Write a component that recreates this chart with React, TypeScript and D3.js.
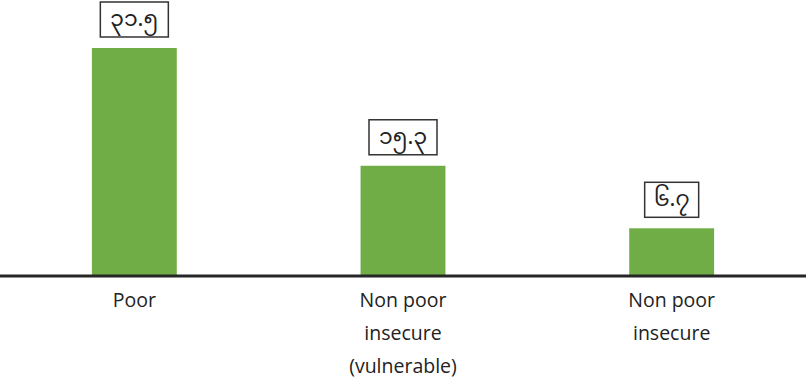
import React from "react";
import * as d3 from "d3";

const categories: string[][] = [
  ["Poor"],
  ["Non poor", "insecure", "(vulnerable)"],
  ["Non poor", "insecure"],
];
const values: number[] = [31.5, 15.3, 6.7];
const valueLabels: string[] = ["၃၁.၅", "၁၅.၃", "၆.၇"];

const W = 809;
const H = 383;

export default function App() {
  const keys = categories.map((_, i) => String(i));
  const x = d3
    .scaleBand<string>()
    .domain(keys)
    .range([0, 806])
    .paddingInner(0.684)
    .paddingOuter(0.342);
  const y = d3.scaleLinear().domain([0, 35]).range([277, 277 - 35 * 7.27]);
  const boxW = [68, 68, 54];
  return (
    <svg
      width={W}
      height={H}
      style={{ position: "absolute", left: 0, top: 0 }}
      fontFamily="'Source Sans Pro', 'Open Sans', 'Noto Sans', sans-serif"
    >
      <rect width={W} height={H} fill="#fff" />
      {values.map((v, i) => {
        const bx = x(keys[i])!;
        const bw = x.bandwidth();
        const top = y(v);
        const cx = bx + bw / 2;
        const w = boxW[i];
        return (
          <g key={i}>
            <rect x={bx} y={top} width={bw} height={y(0) - top} fill="#70AD47" />
            <rect
              x={cx - w / 2}
              y={top - 46}
              width={w}
              height={35}
              fill="#fff"
              stroke="#333"
              strokeWidth={1.5}
            />
            <text
              x={cx}
              y={top - 27}
              textAnchor="middle"
              dominantBaseline="central"
              fontSize={22}
              fill="#222"
              fontFamily="'Noto Sans Myanmar', 'Padauk', 'Myanmar Text', sans-serif"
            >
              {valueLabels[i]}
            </text>
          </g>
        );
      })}
      <line x1={0} x2={806} y1={276} y2={276} stroke="#262626" strokeWidth={3} />
      {categories.map((lines, i) => {
        const cx = x(keys[i])! + x.bandwidth() / 2;
        return (
          <text key={i} textAnchor="middle" fontSize={19.5} fill="#222">
            {lines.map((l, j) => (
              <tspan key={j} x={cx} y={307 + j * 33}>
                {l}
              </tspan>
            ))}
          </text>
        );
      })}
    </svg>
  );
}
